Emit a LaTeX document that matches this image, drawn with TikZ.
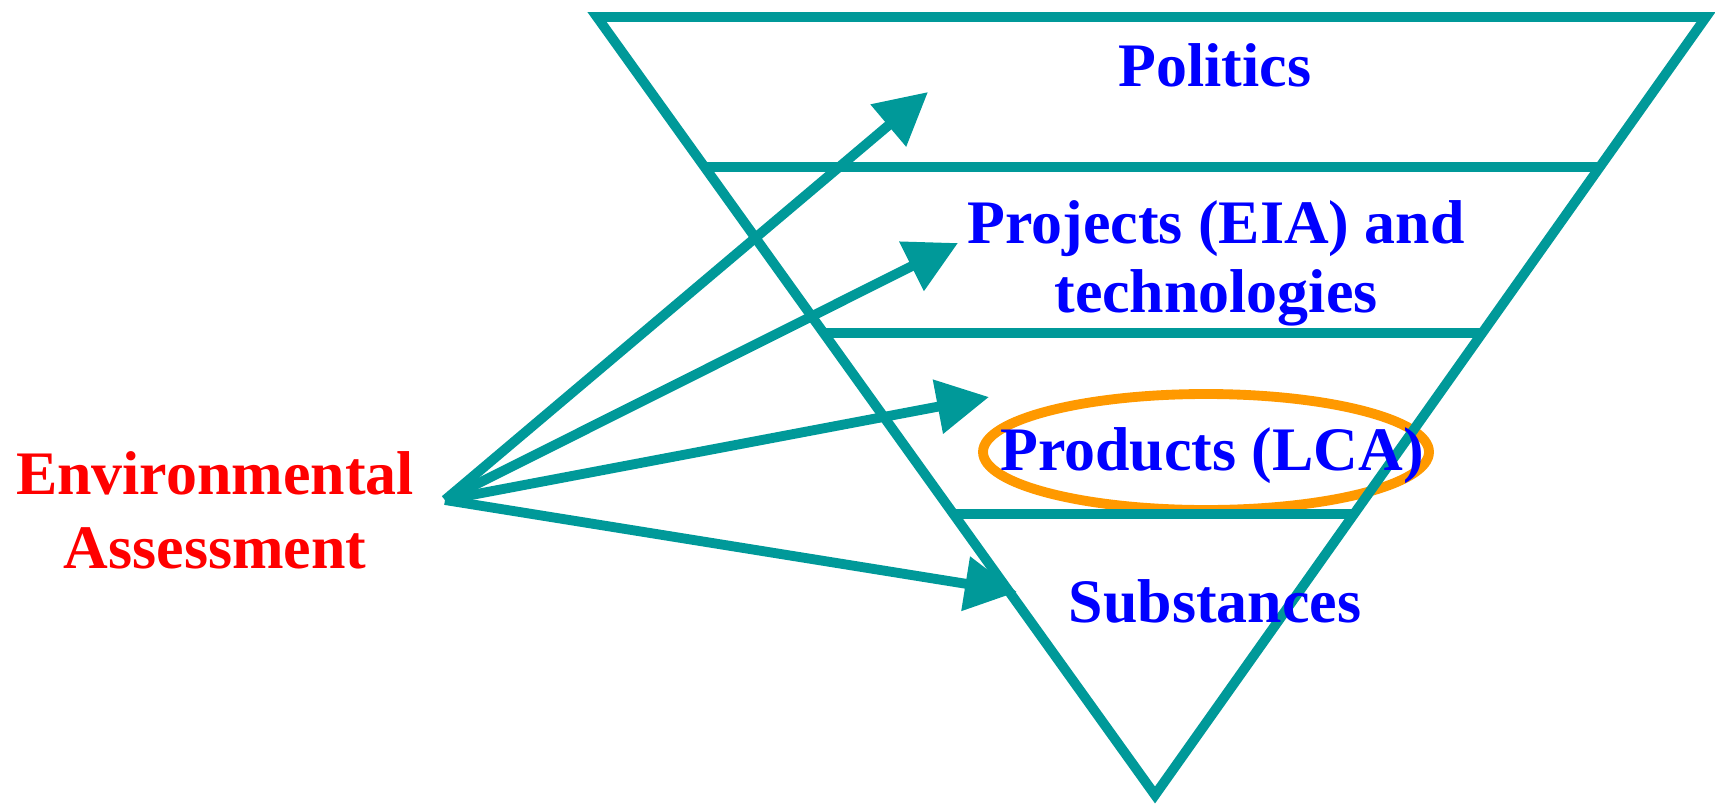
\documentclass[tikz,border=0pt]{standalone}
\usepackage{fontspec}
\setmainfont{Liberation Serif}
\usetikzlibrary{arrows.meta,calc}
\definecolor{eaTeal}{RGB}{0,153,153}
\definecolor{eaOrange}{RGB}{255,153,0}
\begin{document}
\begin{tikzpicture}[x=0.01cm,y=-0.01cm,line width=2.8pt,
    arr/.style={draw=eaTeal,-{Triangle[length=14.8pt,width=15pt]}},
    lvl/.style={text=blue,font=\fontsize{17.6pt}{19.6pt}\selectfont\bfseries,align=center,anchor=base}]
    \useasboundingbox (0,0) rectangle (1715,809);
    \draw[eaOrange] (1206,452) ellipse (223 and 58);
    \coordinate (tl) at (597,17);
    \coordinate (tr) at (1706,17);
    \coordinate (ap) at (1155,795);
    \draw[eaTeal] (tl) -- (tr) -- (ap) -- cycle;
    \draw[eaTeal] ($(tl)!0.193!(ap)$) -- ($(tr)!0.193!(ap)$);
    \draw[eaTeal] ($(tl)!0.406!(ap)$) -- ($(tr)!0.406!(ap)$);
    \draw[eaTeal] ($(tl)!0.639!(ap)$) -- ($(tr)!0.639!(ap)$);
    \coordinate (src) at (445,500);
    \coordinate (tpol) at (928,92);
    \coordinate (tproj) at (958,243);
    \coordinate (tprod) at (989,397);
    \coordinate (tsubs) at (1017,592);
    \draw[arr] (src) -- (tpol);
    \draw[arr] (src) -- (tproj);
    \draw[arr] (src) -- (tprod);
    \draw[arr] (src) -- (tsubs);
    \node[lvl] (pol) at (1215,87) {Politics};
    \node[lvl] (proj) at (1216,312) {Projects (EIA) and\\technologies};
    \node[lvl] (prod) at (1212,470) {Products (LCA)};
    \node[lvl] (subs) at (1215,622) {Substances};
    \node[lvl,text=red,font=\fontsize{17.6pt}{21pt}\selectfont\bfseries] (env) at (215,568) {Environmental\\Assessment};
\end{tikzpicture}
\end{document}
